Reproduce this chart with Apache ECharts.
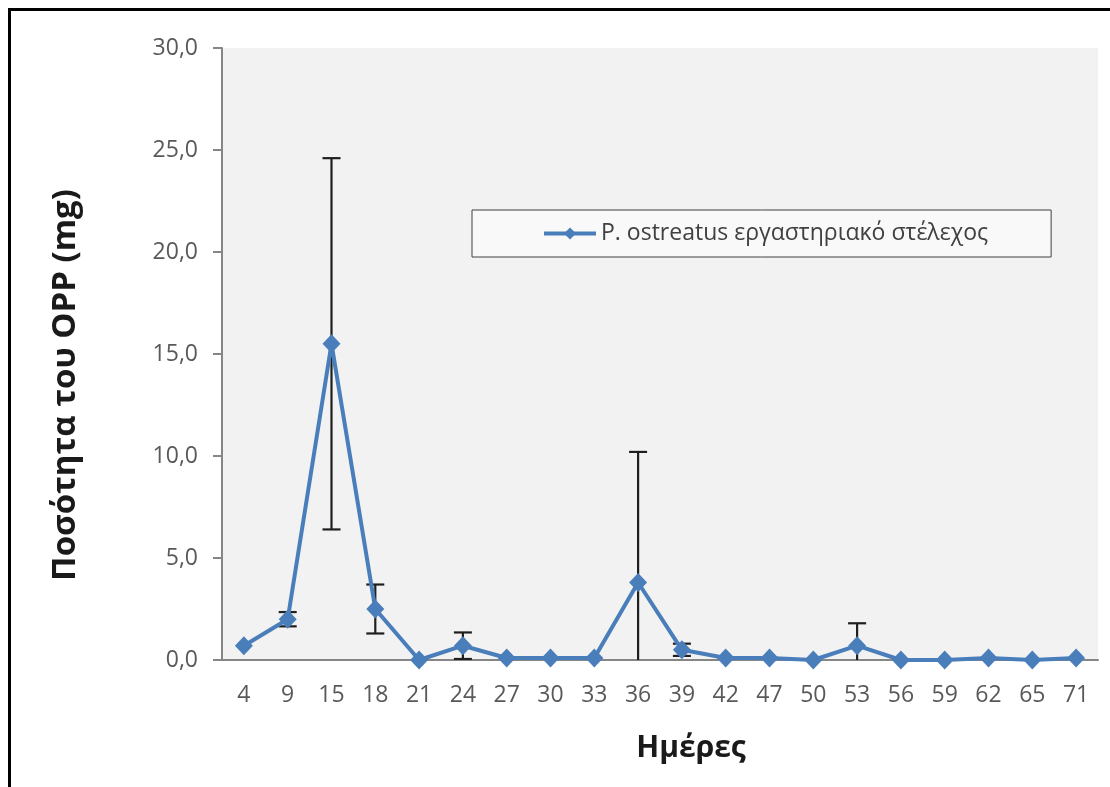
<!DOCTYPE html>
<html>
<head>
<meta charset="utf-8">
<script src="https://cdn.jsdelivr.net/npm/echarts@6/dist/echarts.min.js"></script>
<style>
html,body{margin:0;padding:0;background:#fff;}
#chart{width:1110px;height:787px;}
</style>
</head>
<body>
<div id="chart"></div>
<script>
// Data
const days = ['4','9','15','18','21','24','27','30','33','36','39','42','47','50','53','56','59','62','65','71'];
const meanValues = [0.7,2.0,15.5,2.5,0.0,0.7,0.1,0.1,0.1,3.8,0.5,0.1,0.1,0.0,0.7,0.0,0.0,0.1,0.0,0.1];
const errorValues = [0.0,0.35,9.1,1.2,0.0,0.65,0.0,0.0,0.0,6.4,0.3,0.0,0.0,0.0,1.1,0.0,0.0,0.0,0.0,0.0];
const yTicks = [0, 5, 10, 15, 20, 25, 30];
const seriesName = 'P. ostreatus εργαστηριακό στέλεχος';
const yTitle = 'Ποσότητα του OPP (mg)';
const xTitle = 'Ημέρες';

const errData = days.map((d, i) => [i, meanValues[i] - errorValues[i], meanValues[i] + errorValues[i], errorValues[i]]);

const chart = echarts.init(document.getElementById('chart'));
const font = '"Open Sans", sans-serif';
chart.setOption({
  animation: false,
  backgroundColor: '#ffffff',
  textStyle: { fontFamily: font },
  grid: {
    left: 222, right: 12, top: 48, bottom: 127,
    show: true, backgroundColor: '#f2f2f2', borderWidth: 0
  },
  legend: {
    left: 472, top: 210,
    padding: [12, 63, 12, 70],
    borderColor: '#404040', borderWidth: 1,
    backgroundColor: '#f9f9f9',
    itemWidth: 52, itemHeight: 15,
    lineStyle: { width: 4 },
    textStyle: { fontFamily: font, fontSize: 23, color: '#404040' },
    data: [seriesName]
  },
  xAxis: {
    type: 'category',
    data: days,
    boundaryGap: true,
    axisLine: { lineStyle: { color: '#868686', width: 2 } },
    axisTick: { show: false },
    axisLabel: { color: '#595959', fontSize: 23, fontFamily: font, margin: 24 }
  },
  yAxis: {
    type: 'value',
    min: yTicks[0], max: yTicks[yTicks.length - 1], interval: 5,
    splitLine: { show: false },
    axisLine: { show: true, lineStyle: { color: '#868686', width: 2 } },
    axisTick: { show: true, length: 9, lineStyle: { color: '#868686', width: 2 } },
    axisLabel: {
      color: '#595959', fontSize: 23, fontFamily: font, margin: 24,
      formatter: v => v.toFixed(1).replace('.', ',')
    }
  },
  graphic: [
    { type: 'line', shape: { x1: 9.5, y1: 8, x2: 9.5, y2: 787 }, style: { stroke: '#000', lineWidth: 3 } },
    { type: 'line', shape: { x1: 8, y1: 9.5, x2: 1110, y2: 9.5 }, style: { stroke: '#000', lineWidth: 3 } },
    { type: 'text', x: 66, y: 385, rotation: Math.PI / 2,
      style: { text: yTitle, font: 'bold 33px "Open Sans", sans-serif', fill: '#1a1a1a', align: 'center', verticalAlign: 'middle' } },
    { type: 'text', x: 691, y: 748,
      style: { text: xTitle, font: 'bold 30px "Open Sans", sans-serif', fill: '#1a1a1a', align: 'center', verticalAlign: 'middle' } }
  ],
  series: [
    {
      type: 'custom',
      name: 'err',
      clip: true,
      z: 1,
      renderItem: function (params, api) {
        const x = api.value(0);
        const lo = api.value(1), hi = api.value(2), e = api.value(3);
        if (e <= 0) return null;
        const pHi = api.coord([x, hi]);
        const pLo = api.coord([x, lo]);
        const cap = 9;
        const st = { stroke: '#1f1f1f', lineWidth: 2.2 };
        return {
          type: 'group',
          children: [
            { type: 'line', shape: { x1: pHi[0], y1: pHi[1], x2: pLo[0], y2: pLo[1] }, style: st },
            { type: 'line', shape: { x1: pHi[0] - cap, y1: pHi[1], x2: pHi[0] + cap, y2: pHi[1] }, style: st },
            { type: 'line', shape: { x1: pLo[0] - cap, y1: pLo[1], x2: pLo[0] + cap, y2: pLo[1] }, style: st }
          ]
        };
      },
      encode: { x: 0, y: [1, 2] },
      data: errData
    },
    {
      type: 'line',
      name: seriesName,
      data: meanValues,
      z: 3,
      symbol: 'diamond',
      symbolSize: [18, 19],
      lineStyle: { color: '#4a7ebb', width: 4 },
      itemStyle: { color: '#4a7ebb' }
    }
  ]
});
</script>
</body>
</html>
